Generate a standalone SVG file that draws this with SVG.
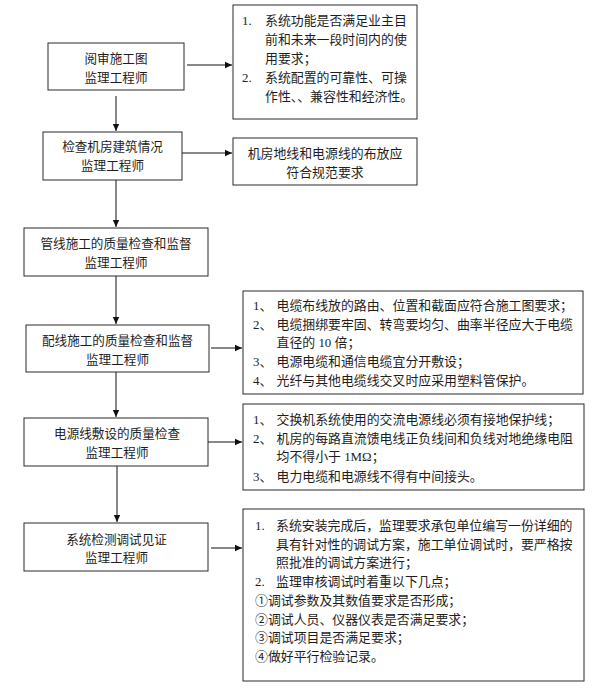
<svg xmlns="http://www.w3.org/2000/svg" width="601" height="692" viewBox="0 0 601 692">
<defs>
<marker id="arr" markerWidth="8" markerHeight="8" refX="7" refY="4" orient="auto" markerUnits="userSpaceOnUse">
<path d="M0,0.8 L7,4 L0,7.2 Z" fill="#111"/>
</marker>
<style>
.box{fill:#fff;stroke:#2a2a2a;stroke-width:1}
.t{font-family:"Liberation Serif","Noto Sans CJK SC",serif;fill:#1e1e1e}
.l{font-size:12.6px;text-anchor:middle}
.r{font-size:12.9px}
.c{stroke:#111;stroke-width:1;fill:none;marker-end:url(#arr)}
</style>
</defs>
<rect width="601" height="692" fill="#fff"/>

<g id="connectors">
<line class="c" x1="187" y1="65" x2="232" y2="65"/>
<line class="c" x1="116" y1="96" x2="116" y2="131"/>
<line class="c" x1="182" y1="153" x2="232" y2="153"/>
<line class="c" x1="116" y1="180" x2="116" y2="227"/>
<line class="c" x1="116" y1="276" x2="116" y2="324"/>
<line class="c" x1="211" y1="348" x2="242" y2="348"/>
<line class="c" x1="116" y1="372" x2="116" y2="417"/>
<line class="c" x1="207" y1="442" x2="242" y2="442"/>
<line class="c" x1="117" y1="466" x2="117" y2="522"/>
<line class="c" x1="211" y1="548" x2="242" y2="548"/>
</g>

<g id="n1">
<rect class="box" x="48" y="43" width="136" height="47"/>
<text class="t l" x="116" y="63">阅审施工图</text>
<text class="t l" x="116" y="82">监理工程师</text>
</g>

<g id="r1">
<rect class="box" x="233" y="5" width="184" height="114"/>
<text class="t r" x="242" y="25">1.</text>
<text class="t r" x="265" y="25">系统功能是否满足业主目</text>
<text class="t r" x="265" y="44">前和未来一段时间内的使</text>
<text class="t r" x="265" y="63">用要求；</text>
<text class="t r" x="242" y="82">2.</text>
<text class="t r" x="265" y="82">系统配置的可靠性、可操</text>
<text class="t r" x="265" y="101">作性、、兼容性和经济性。</text>
</g>

<g id="n2">
<rect class="box" x="43" y="132" width="139" height="48"/>
<text class="t l" x="112.5" y="151">检查机房建筑情况</text>
<text class="t l" x="112.5" y="170">监理工程师</text>
</g>

<g id="r2">
<rect class="box" x="233" y="138" width="184" height="47"/>
<text class="t r" x="325" y="158" text-anchor="middle">机房地线和电源线的布放应</text>
<text class="t r" x="325" y="177" text-anchor="middle">符合规范要求</text>
</g>

<g id="n3">
<rect class="box" x="24" y="228" width="184" height="48"/>
<text class="t l" x="116" y="248">管线施工的质量检查和监督</text>
<text class="t l" x="116" y="267">监理工程师</text>
</g>

<g id="n4">
<rect class="box" x="26" y="325" width="183" height="47"/>
<text class="t l" x="117.5" y="344.5">配线施工的质量检查和监督</text>
<text class="t l" x="117.5" y="363.5">监理工程师</text>
</g>

<g id="r3">
<rect class="box" x="243" y="291" width="340" height="103"/>
<text class="t r" x="253" y="309.5">1、</text>
<text class="t r" x="276.5" y="309.5">电缆布线放的路由、位置和截面应符合施工图要求；</text>
<text class="t r" x="253" y="328.5">2、</text>
<text class="t r" x="276.5" y="328.5">电缆捆绑要牢固、转弯要均匀、曲率半径应大于电缆</text>
<text class="t r" x="276.5" y="347">直径的 10 倍；</text>
<text class="t r" x="253" y="366">3、</text>
<text class="t r" x="276.5" y="366">电源电缆和通信电缆宜分开敷设；</text>
<text class="t r" x="253" y="384.5">4、</text>
<text class="t r" x="276.5" y="384.5">光纤与其他电缆线交叉时应采用塑料管保护。</text>
</g>

<g id="n5">
<rect class="box" x="24" y="418" width="184" height="48"/>
<text class="t l" x="117" y="438">电源线敷设的质量检查</text>
<text class="t l" x="117" y="457">监理工程师</text>
</g>

<g id="r4">
<rect class="box" x="243" y="404" width="341" height="86"/>
<text class="t r" x="253" y="423.5">1、</text>
<text class="t r" x="276.5" y="423.5">交换机系统使用的交流电源线必须有接地保护线；</text>
<text class="t r" x="253" y="442.5">2、</text>
<text class="t r" x="276.5" y="442.5">机房的每路直流馈电线正负线间和负线对地绝缘电阻</text>
<text class="t r" x="276.5" y="461">均不得小于 1MΩ；</text>
<text class="t r" x="253" y="480.5">3、</text>
<text class="t r" x="276.5" y="480.5">电力电缆和电源线不得有中间接头。</text>
</g>

<g id="n6">
<rect class="box" x="24" y="523" width="184" height="48"/>
<text class="t l" x="116.5" y="543.5">系统检测调试见证</text>
<text class="t l" x="116.5" y="561.5">监理工程师</text>
</g>

<g id="r5">
<rect class="box" x="243" y="509" width="341" height="172"/>
<text class="t r" x="255" y="529.5">1.</text>
<text class="t r" x="276" y="529.5">系统安装完成后，监理要求承包单位编写一份详细的</text>
<text class="t r" x="276" y="548.5">具有针对性的调试方案，施工单位调试时，要严格按</text>
<text class="t r" x="276" y="566.5">照批准的调试方案进行；</text>
<text class="t r" x="255" y="585.5">2.</text>
<text class="t r" x="276" y="585.5">监理审核调试时着重以下几点；</text>
<text class="t r" x="255" y="604.5">①调试参数及其数值要求是否形成；</text>
<text class="t r" x="255" y="623.5">②调试人员、仪器仪表是否满足要求；</text>
<text class="t r" x="255" y="642">③调试项目是否满足要求；</text>
<text class="t r" x="255" y="661">④做好平行检验记录。</text>
</g>
</svg>
